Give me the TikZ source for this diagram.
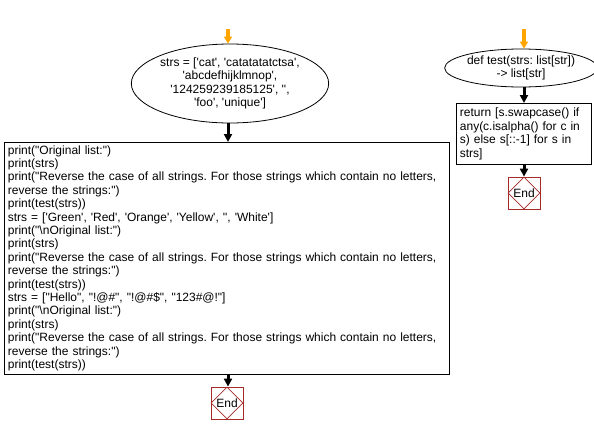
\documentclass[tikz,border=0pt]{standalone}
\usepackage{fontspec}
\setmainfont{Liberation Sans}[Ligatures=TeXOff]
\usetikzlibrary{arrows.meta,shapes.geometric}
\definecolor{endred}{HTML}{A52A2A}
\definecolor{startorange}{HTML}{FFA500}
\frenchspacing
\tikzset{
  every node/.style={font=\fontsize{12}{13.4}\selectfont},
  term/.style={ellipse,draw,line width=0.8pt,inner sep=0pt,align=center},
  procbox/.style={rectangle,draw,line width=0.8pt,inner xsep=3.5pt,inner ysep=3pt,align=left,anchor=north west},
  endbox/.style={rectangle,draw=endred,line width=0.8pt,minimum width=32pt,minimum height=32pt,inner sep=0pt},
  enddia/.style={diamond,draw=endred,line width=0.8pt,minimum width=32pt,minimum height=32pt,inner sep=0pt},
  flow/.style={line width=3pt,-{Triangle[width=8pt,length=8pt]}},
  startflow/.style={draw=startorange,line width=4pt,-{Triangle[width=8pt,length=7pt]}},
}
\begin{document}
\begin{tikzpicture}[x=1pt,y=-1pt]
\useasboundingbox (0,0) rectangle (594,434);
% left column
\coordinate (s1) at (228,29);
\node[term,minimum width=158pt,minimum height=79pt] (e1) at (230,83.5)
  {strs = ['cat', 'catatatatctsa',\\'abcdefhijklmnop',\\'124259239185125', '',\\'foo', 'unique']};
\node[procbox,text width=438pt,minimum height=231pt] (b1) at (4,142) {%
print("Original list:")\\
print(strs)\\
print("Reverse the case of all strings. For those strings which contain no letters,\\
reverse the strings:")\\
print(test(strs))\\
strs = ['Green', 'Red', 'Orange', 'Yellow', '', 'White']\\
print("\textbackslash nOriginal list:")\\
print(strs)\\
print("Reverse the case of all strings. For those strings which contain no letters,\\
reverse the strings:")\\
print(test(strs))\\
strs = ["Hello", "!@\#", "!@\#\$", "123\#@!"]\\
print("\textbackslash nOriginal list:")\\
print(strs)\\
print("Reverse the case of all strings. For those strings which contain no letters,\\
reverse the strings:")\\
print(test(strs))};
\node[endbox] (end1b) at (227,403) {};
\node[enddia] (end1) at (227,403) {End};
\coordinate (a1) at (228,0);
\draw[startflow] (s1) -- (s1 |- e1.north);
\draw[flow] (e1.south -| a1) -- (b1.north -| a1);
\draw[flow] (b1.south -| a1) -- (end1b.north -| a1);
% right column
\coordinate (s2) at (524,29);
\node[term,minimum width=125pt,minimum height=38pt] (e2) at (521,68)
  {def test(strs: list[str])\\-> list[str]};
\node[procbox,text width=128pt,minimum height=61pt] (b2) at (456,103)
  {return [s.swapcase() if\\any(c.isalpha() for c in\\s) else s[::-1] for s in\\strs]};
\node[endbox] (end2b) at (524,193) {};
\node[enddia] (end2) at (524,193) {End};
\coordinate (a2) at (524,0);
\draw[startflow] (s2) -- (s2 |- e2.north);
\draw[flow] (e2.south -| a2) -- (b2.north -| a2);
\draw[flow] (b2.south -| a2) -- (end2b.north -| a2);
\end{tikzpicture}
\end{document}
